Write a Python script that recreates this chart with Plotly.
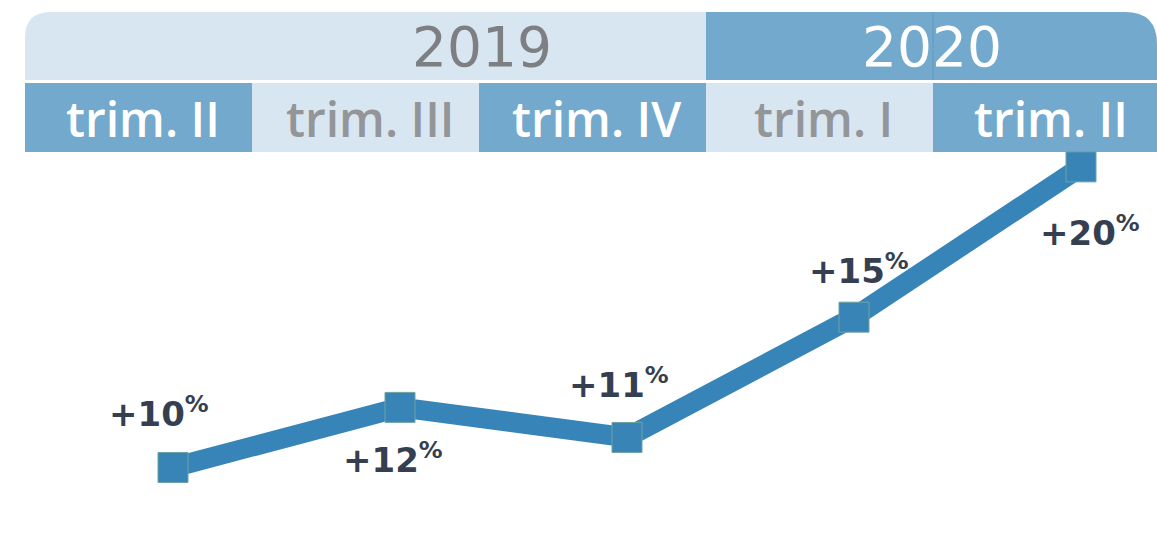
import plotly.graph_objects as go

# ---- data ----
quarters = ["trim. II", "trim. III", "trim. IV", "trim. I", "trim. II"]
years = ["2019", "2020"]
quarters_per_year = [3, 2]
growth_pct = [10, 12, 11, 15, 20]
labels = [f"+{v}<sup>%</sup>" for v in growth_pct]

# ---- styling ----
W, H = 1157, 558
PX_PER_X = 227.0          # pixels per quarter
X0_PX = 173.0             # pixel position of the first quarter
x_range = [-X0_PX / PX_PER_X, (W - X0_PX) / PX_PER_X]
y_range = [6.99, 25.55]

LIGHT = "#d8e6f1"
DARK = "#73a9cd"
LINE = "#3785b8"
GREY_TXT = "#939598"
LABEL_TXT = "#363f4f"

def py(px):
    """pixel from top -> paper y"""
    return 1 - px / H

idx = list(range(len(quarters)))

fig = go.Figure()
fig.add_trace(go.Scatter(
    x=idx, y=growth_pct, mode="lines+markers",
    line=dict(color=LINE, width=20),
    marker=dict(symbol="square", size=30, color="#3884b6",
                line=dict(color="#6fa3a0", width=1)),
    hoverinfo="skip", showlegend=False,
))

shapes = []
annotations = []

# quarter row
CELL_OFF = 0.652
for i, q in enumerate(quarters):
    dark = (i % 2 == 0)
    x0 = i - CELL_OFF
    x1 = i + 1 - CELL_OFF if i < len(quarters) - 1 else x_range[1]
    shapes.append(dict(type="rect", xref="x", yref="paper",
                       x0=x0, x1=x1, y0=py(152), y1=py(83),
                       fillcolor=DARK if dark else LIGHT, line=dict(width=0),
                       layer="below"))
    annotations.append(dict(x=i - CELL_OFF + 0.5, y=py(119), xref="x", yref="paper",
                            text=q, showarrow=False, xshift=4,
                            xanchor="center", yanchor="middle",
                            font=dict(family="Open Sans", size=48, weight=600,
                                      color="white" if dark else GREY_TXT)))

# year row with rounded outer corners
T, B = py(12), py(80)
start = 0
for k, (yr, n) in enumerate(zip(years, quarters_per_year)):
    L = start - CELL_OFF
    R = start + n - CELL_OFF if k < len(years) - 1 else x_range[1]
    if k == 0:
        r = 26
        rx, ry = r / PX_PER_X, r / H
        path = (f"M {L},{B} L {L},{T - ry} Q {L},{T} {L + rx},{T} "
                f"L {R},{T} L {R},{B} Z")
        fill = LIGHT
    else:
        r = 32
        rx, ry = r / PX_PER_X, r / H
        path = (f"M {L},{B} L {L},{T} L {R - rx},{T} Q {R},{T} {R},{T - ry} "
                f"L {R},{B} Z")
        fill = DARK
    shapes.append(dict(type="path", xref="x", yref="paper", path=path,
                       fillcolor=fill, line=dict(width=0), layer="below"))
    start += n

# thin divider inside the 2020 band
shapes.append(dict(type="line", xref="x", yref="paper",
                   x0=4 - CELL_OFF, x1=4 - CELL_OFF, y0=B, y1=T,
                   line=dict(color="#5e9bc5", width=1)))

annotations.append(dict(x=(482 - X0_PX) / PX_PER_X, y=py(47), xref="x", yref="paper",
                        text=years[0], showarrow=False, xanchor="center", yanchor="middle",
                        font=dict(family="DejaVu Sans", size=55, color="#7e7f82")))
annotations.append(dict(x=(932 - X0_PX) / PX_PER_X, y=py(47), xref="x", yref="paper",
                        text=years[1], showarrow=False, xanchor="center", yanchor="middle",
                        font=dict(family="DejaVu Sans", size=55, color="white")))

# value labels (offsets in pixels relative to each point)
offsets = [(-14, 56), (-7, -51), (-8, 54), (5, 48), (9, -64)]
for i, (lab, (dx, dy)) in enumerate(zip(labels, offsets)):
    annotations.append(dict(x=i, y=growth_pct[i], xref="x", yref="y",
                            text=lab, showarrow=False, xshift=dx, yshift=dy,
                            xanchor="center", yanchor="middle",
                            font=dict(family="DejaVu Sans", size=34,
                                      color=LABEL_TXT, weight="bold")))

fig.update_layout(
    width=W, height=H,
    margin=dict(l=0, r=0, t=0, b=0),
    paper_bgcolor="white", plot_bgcolor="white",
    xaxis=dict(range=x_range, visible=False, fixedrange=True),
    yaxis=dict(range=y_range, visible=False, fixedrange=True),
    shapes=shapes, annotations=annotations,
    showlegend=False,
)

fig.write_html("out.html")
